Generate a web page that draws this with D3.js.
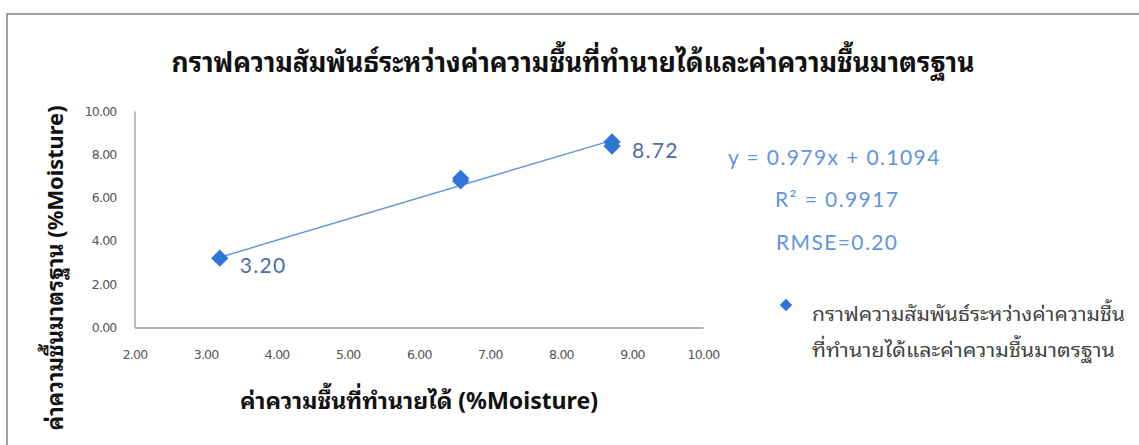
<!DOCTYPE html>
<html>
<head>
<meta charset="utf-8">
<script src="https://cdn.jsdelivr.net/npm/d3@7"></script>
<style>
  html, body { margin: 0; padding: 0; background: #fff; }
  svg { display: block; }
</style>
</head>
<body>
<svg id="chart" width="1139" height="445"></svg>
<script>
// Predicted vs. standard moisture (%Moisture)
const predicted = [3.20, 6.59, 6.59, 8.72, 8.72];
const standard  = [3.20, 6.89, 6.77, 8.57, 8.38];
const pointLabels = ["3.20", "", "", "8.72", ""];

const xTicks = [2, 3, 4, 5, 6, 7, 8, 9, 10];
const yTicks = [0, 2, 4, 6, 8, 10];

// Linear fit shown on the chart
const slope = 0.979;
const intercept = 0.1094;
const fitText = ["y = 0.979x + 0.1094", "R² = 0.9917", "RMSE=0.20"];

const titleText = "กราฟความสัมพันธ์ระหว่างค่าความชื้นที่ทำนายได้และค่าความชื้นมาตรฐาน";
const xTitle = "ค่าความชื้นที่ทำนายได้ (%Moisture)";
const yTitle = "ค่าความชื้นมาตรฐาน (%Moisture)";
const legendLines = ["กราฟความสัมพันธ์ระหว่างค่าความชื้น", "ที่ทำนายได้และค่าความชื้นมาตรฐาน"];

const thaiFont = "'Noto Sans Thai Looped', 'Noto Sans Thai', Loma, Garuda, Tahoma, 'Noto Sans', sans-serif";
const latinFont = "Lato, 'Open Sans', sans-serif";
const blue = "#2f74d8";
const fitBlue = "#5f95dc";

const svg = d3.select("#chart");

// Frame
svg.append("rect")
  .attr("x", 7).attr("y", 14).attr("width", 1150).attr("height", 450)
  .attr("fill", "#fff").attr("stroke", "#8a8a8a").attr("stroke-width", 1.6);

const x = d3.scaleLinear().domain([2, 10]).range([134.5, 703]);
const y = d3.scaleLinear().domain([0, 10]).range([327.5, 111]);

// Title
svg.append("text")
  .attr("x", 573).attr("y", 72)
  .attr("text-anchor", "middle")
  .attr("font-family", thaiFont).attr("font-weight", "bold")
  .attr("font-size", 27).attr("fill", "#111")
  .attr("textLength", 803).attr("lengthAdjust", "spacingAndGlyphs")
  .text(titleText);

// Axes
const fmt = d3.format(".2f");
const xAxis = d3.axisBottom(x).tickValues(xTicks).tickFormat(fmt).tickSize(0).tickPadding(23);
const yAxis = d3.axisLeft(y).tickValues(yTicks).tickFormat(fmt).tickSize(0).tickPadding(18);

const gx = svg.append("g").attr("transform", `translate(0,${y(0)})`).call(xAxis);
const gy = svg.append("g").attr("transform", `translate(${x(2)},0)`).call(yAxis);

[gx, gy].forEach(g => {
  g.select(".domain").attr("stroke", "#9a9a9a").attr("stroke-width", 1.3);
  g.selectAll("text")
    .attr("font-family", "'DejaVu Sans', sans-serif")
    .attr("font-size", 12.5)
    .attr("letter-spacing", "-0.8")
    .attr("fill", "#555");
});

// Axis titles
svg.append("text")
  .attr("x", 419).attr("y", 409)
  .attr("text-anchor", "middle")
  .attr("font-family", thaiFont).attr("font-weight", "bold")
  .attr("font-size", 23).attr("fill", "#111")
  .attr("textLength", 358).attr("lengthAdjust", "spacingAndGlyphs")
  .text(xTitle);

svg.append("text")
  .attr("transform", `translate(63,268) rotate(-90)`)
  .attr("text-anchor", "middle")
  .attr("font-family", thaiFont).attr("font-weight", "bold")
  .attr("font-size", 22).attr("fill", "#111")
  .attr("textLength", 325).attr("lengthAdjust", "spacingAndGlyphs")
  .text(yTitle);

// Fitted line across the predicted range
const xr = d3.extent(predicted);
svg.append("line")
  .attr("x1", x(xr[0])).attr("y1", y(slope * xr[0] + intercept))
  .attr("x2", x(xr[1])).attr("y2", y(slope * xr[1] + intercept))
  .attr("stroke", fitBlue).attr("stroke-width", 1.4);

// Points
const pts = predicted.map((p, i) => ({ x: p, y: standard[i], label: pointLabels[i] }));
const diamond = d3.symbol().type(d3.symbolDiamond2).size(190);

svg.append("g").selectAll("path")
  .data(pts).join("path")
  .attr("d", diamond)
  .attr("transform", d => `translate(${x(d.x)},${y(d.y)})`)
  .attr("fill", blue);

svg.append("g").selectAll("text")
  .data(pts.filter(d => d.label)).join("text")
  .attr("x", d => x(d.x) + 20)
  .attr("y", d => y(d.y) + (d.x < 5 ? 15 : 16))
  .attr("font-family", latinFont)
  .attr("font-size", 21).attr("letter-spacing", 1.3).attr("fill", "#4a6fa8")
  .text(d => d.label);

// Fit statistics
const fitPos = [[728, 165], [775, 207], [776, 250]];
svg.append("g").selectAll("text")
  .data(fitText).join("text")
  .attr("x", (d, i) => fitPos[i][0]).attr("y", (d, i) => fitPos[i][1])
  .attr("font-family", latinFont)
  .attr("font-size", 21).attr("letter-spacing", 1.4).attr("fill", fitBlue)
  .text(d => d);

// Legend
svg.append("path")
  .attr("d", d3.symbol().type(d3.symbolDiamond2).size(100))
  .attr("transform", "translate(786,305)")
  .attr("fill", blue);

const legendWidths = [313, 303];
svg.append("g").selectAll("text")
  .data(legendLines).join("text")
  .attr("x", 812).attr("y", (d, i) => 321 + i * 36)
  .attr("font-family", thaiFont)
  .attr("font-size", 20).attr("fill", "#444")
  .attr("textLength", (d, i) => legendWidths[i]).attr("lengthAdjust", "spacingAndGlyphs")
  .text(d => d);
</script>
</body>
</html>
